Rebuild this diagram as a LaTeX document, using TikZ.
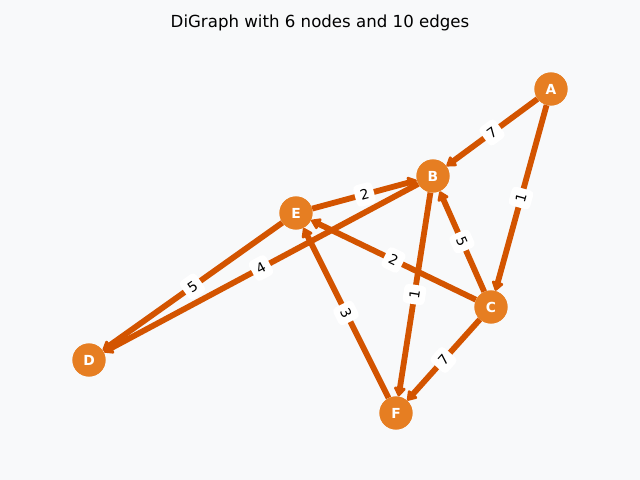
\documentclass[tikz,border=0pt]{standalone}
\usepackage{fontspec}
\setmainfont{DejaVu Sans}
\usetikzlibrary{arrows.meta}
\definecolor{bg}{HTML}{F8F9FA}
\definecolor{edgec}{HTML}{D35400}
\definecolor{nodec}{HTML}{E67E22}
\tikzset{
  vert/.style={circle, fill=nodec, minimum size=0.33in, inner sep=0pt, text=white, font=\bfseries\fontsize{10}{12}\selectfont},
  edge/.style={draw=edgec, line width=4.2pt, -{Triangle[length=7.5pt,width=9.5pt,round]}},
  elab/.style={fill=white, rounded corners=3pt, inner sep=3pt, minimum width=14pt, minimum height=16pt, sloped, midway, font=\fontsize{10}{12}\selectfont, text=black},
}
\begin{document}
\begin{tikzpicture}[x=0.01in, y=-0.01in]
\fill[bg] (0,0) rectangle (640,480);
\useasboundingbox (0,0) rectangle (640,480);
\node (title) at (320,23) {\fontsize{12}{14}\selectfont DiGraph with 6 nodes and 10 edges};
\node[vert] (A) at (551,89) {A};
\node[vert] (B) at (433,176) {B};
\node[vert] (E) at (296,213) {E};
\node[vert] (C) at (491,307) {C};
\node[vert] (D) at (89,360) {D};
\node[vert] (F) at (396,413) {F};
\path[edge] (A) -- (B);
\path[edge] (A) -- (C);
\path[edge] (C) -- (B);
\path[edge] (E) -- (B);
\path[edge] (E) -- (D);
\path[edge] (B) -- (D);
\path[edge] (C) -- (E);
\path[edge] (B) -- (F);
\path[edge] (F) -- (E);
\path[edge] (C) -- (F);
\path (A) -- (B) node[elab] (l1) {7};
\path (A) -- (C) node[elab] (l2) {1};
\path (C) -- (B) node[elab] (l3) {5};
\path (E) -- (B) node[elab] (l4) {2};
\path (E) -- (D) node[elab] (l5) {5};
\path (B) -- (D) node[elab] (l6) {4};
\path (C) -- (E) node[elab] (l7) {2};
\path (B) -- (F) node[elab] (l8) {1};
\path (F) -- (E) node[elab] (l9) {3};
\path (C) -- (F) node[elab] (l10) {7};
\node[vert] at (A) {A};
\node[vert] at (B) {B};
\node[vert] at (E) {E};
\node[vert] at (C) {C};
\node[vert] at (D) {D};
\node[vert] at (F) {F};
\end{tikzpicture}
\end{document}
